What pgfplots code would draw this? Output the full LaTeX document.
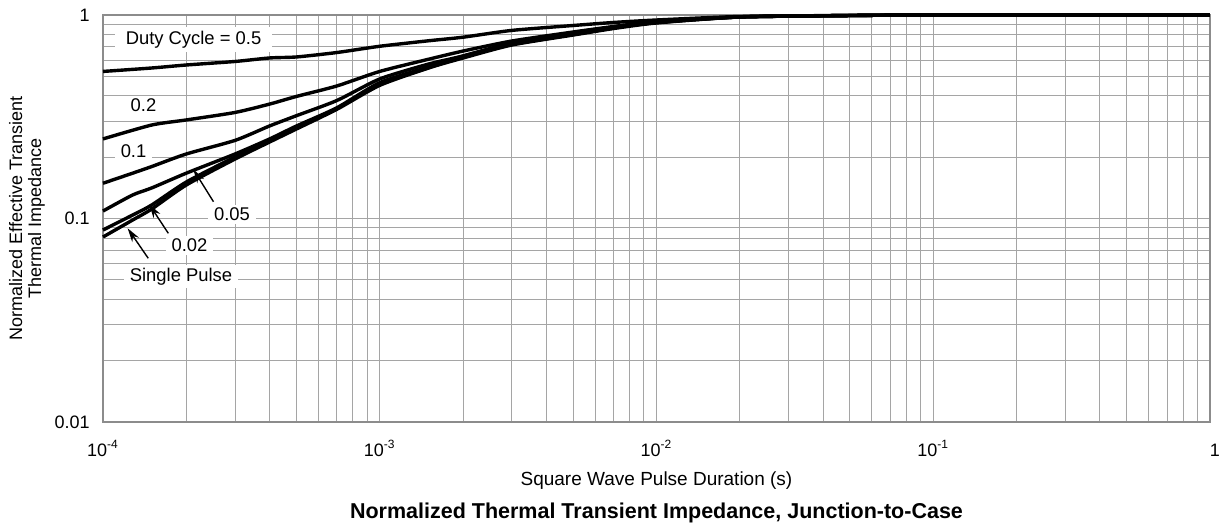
\documentclass[border=0pt]{standalone}
\usepackage{fontspec}
\setmainfont{Liberation Sans}
\usepackage{pgfplots}
\pgfplotsset{compat=1.18}
\usetikzlibrary{arrows.meta}
\definecolor{gridgray}{RGB}{165,165,165}
\pgfplotsset{curve/.style={black, solid, no markers, line width=1.7pt, smooth, tension=0.4}}
\begin{document}
\fontsize{9}{10.5}\selectfont
\begin{tikzpicture}
\path[use as bounding box] (-51.5pt,-51pt) rectangle (559.5pt,211pt);
\begin{axis}[
  at={(0,0)}, anchor=south west,
  scale only axis, width=553.5pt, height=203.5pt,
  xmode=log, ymode=log,
  xmin=1e-4, xmax=1, ymin=0.01, ymax=1,
  clip=false,
  xtick={1e-4,1e-3,1e-2,1e-1,1},
  xticklabels={10\textsuperscript{-4},10\textsuperscript{-3},10\textsuperscript{-2},10\textsuperscript{-1},\vphantom{10\textsuperscript{-1}}\hspace{5pt}1},
  ytick={0.01,0.1,1},
  yticklabels={0.01,0.1,1},
  minor xtick={2e-4,3e-4,4e-4,5e-4,6e-4,7e-4,8e-4,9e-4,2e-3,3e-3,4e-3,5e-3,6e-3,7e-3,8e-3,9e-3,0.02,0.03,0.04,0.05,0.06,0.07,0.08,0.09,0.2,0.3,0.4,0.5,0.6,0.7,0.8,0.9},
  minor ytick={0.02,0.03,0.04,0.05,0.06,0.07,0.08,0.09,0.2,0.3,0.4,0.5,0.6,0.7,0.8,0.9},
  grid=both,
  major grid style={gridgray, line width=0.5pt},
  minor grid style={gridgray, line width=0.5pt},
  axis line style={gridgray!85!black, line width=0.8pt},
  tick style={draw=none},
  xticklabel style={yshift=-6pt},
  yticklabel style={xshift=-3.5pt},
]
% Duty 0.5
\addplot[curve] coordinates {(1e-4,0.528)(1.5e-4,0.549)(2e-4,0.568)(3e-4,0.591)(4e-4,0.615)(5e-4,0.622)(7e-4,0.654)(1e-3,0.702)(1.5e-3,0.747)(2e-3,0.778)(3e-3,0.840)(5e-3,0.888)(7e-3,0.919)(1e-2,0.945)(2e-2,0.983)(5e-2,0.995)(0.1,1)(1,1)};
% Duty 0.2
\addplot[curve] coordinates {(1e-4,0.246)(1.5e-4,0.288)(2e-4,0.305)(3e-4,0.332)(4e-4,0.365)(5e-4,0.398)(7e-4,0.448)(1e-3,0.528)(1.5e-3,0.606)(2e-3,0.665)(3e-3,0.745)(5e-3,0.825)(7e-3,0.878)(1e-2,0.929)(2e-2,0.978)(5e-2,0.994)(0.1,1)(1,1)};
% Duty 0.1
\addplot[curve] coordinates {(1e-4,0.149)(1.28e-4,0.167)(1.5e-4,0.180)(2e-4,0.2075)(3e-4,0.242)(4e-4,0.285)(5e-4,0.320)(7e-4,0.380)(1e-3,0.485)(1.5e-3,0.574)(2e-3,0.629)(3e-3,0.729)(5e-3,0.816)(7e-3,0.873)(1e-2,0.924)(2e-2,0.978)(5e-2,0.994)(0.1,1)(1,1)};
% Duty 0.05
\addplot[curve] coordinates {(1e-4,0.1088)(1.28e-4,0.1305)(1.5e-4,0.1413)(2e-4,0.167)(3e-4,0.2075)(4e-4,0.246)(5e-4,0.2848)(7e-4,0.350)(1e-3,0.465)(1.5e-3,0.5552)(2e-3,0.6288)(3e-3,0.7205)(5e-3,0.8065)(7e-3,0.8682)(1e-2,0.9186)(2e-2,0.978)(5e-2,0.994)(0.1,1)(1,1)};
% Duty 0.02
\addplot[curve] coordinates {(1e-4,0.0878)(1.28e-4,0.104)(1.5e-4,0.1165)(2e-4,0.1511)(3e-4,0.2005)(4e-4,0.2403)(5e-4,0.2784)(7e-4,0.348)(1e-3,0.456)(1.5e-3,0.550)(2e-3,0.622)(3e-3,0.716)(5e-3,0.802)(7e-3,0.863)(1e-2,0.9186)(2e-2,0.978)(5e-2,0.994)(0.1,1)(1,1)};
% Single pulse
\addplot[curve] coordinates {(1e-4,0.0811)(1.28e-4,0.0983)(1.5e-4,0.1113)(2e-4,0.1461)(3e-4,0.196)(4e-4,0.2376)(5e-4,0.2753)(7e-4,0.344)(1e-3,0.451)(1.5e-3,0.549)(2e-3,0.6147)(3e-3,0.7121)(5e-3,0.7974)(7e-3,0.8582)(1e-2,0.9136)(2e-2,0.9776)(5e-2,0.994)(0.1,1)(1,1)};

% annotations
\node[fill=white, inner xsep=5.5pt, inner ysep=2pt, anchor=base, font=\fontsize{9.2}{11}\selectfont] at (rel axis cs:0.0818,0.9287) {Duty Cycle = 0.5};
\node[fill=white, inner xsep=3pt, inner ysep=1.5pt, anchor=base, font=\fontsize{9.2}{11}\selectfont] at (rel axis cs:0.0366,0.7624) {0.2};
\node[fill=white, inner xsep=3pt, inner ysep=1.5pt, anchor=base, font=\fontsize{9.2}{11}\selectfont] at (rel axis cs:0.0276,0.6504) {0.1};
\node[fill=white, inner xsep=3pt, inner ysep=1.5pt, anchor=base, font=\fontsize{9.2}{11}\selectfont] at (rel axis cs:0.1165,0.4939) {0.05};
\node[fill=white, inner xsep=3pt, inner ysep=1.5pt, anchor=base, font=\fontsize{9.2}{11}\selectfont] at (rel axis cs:0.0781,0.4184) {0.02};
\node[fill=white, inner xsep=3pt, inner ysep=1.5pt, anchor=base, font=\fontsize{9.2}{11}\selectfont] at (rel axis cs:0.0705,0.3452) {Single Pulse};
\draw[black, line width=0.7pt, -{Stealth[length=7pt,width=4pt]}] (rel axis cs:0.0998,0.5413) -- (rel axis cs:0.0816,0.6208);
\draw[black, line width=0.7pt, -{Stealth[length=7pt,width=4pt]}] (rel axis cs:0.0590,0.4636) -- (rel axis cs:0.0418,0.5348);
\draw[black, line width=0.7pt, -{Stealth[length=7pt,width=4pt]}] (rel axis cs:0.0409,0.4022) -- (rel axis cs:0.0223,0.4759);

% labels
\node[rotate=90, align=center, font=\fontsize{9}{9.5}\selectfont] at (rel axis cs:-0.0687,0.5) {Normalized Effective Transient\\Thermal Impedance};
\node[anchor=base, font=\fontsize{9.5}{11}\selectfont] at (rel axis cs:0.5,-0.1572) {Square Wave Pulse Duration (s)};
\node[anchor=base, font=\fontsize{10.75}{12}\selectfont\bfseries] at (rel axis cs:0.5,-0.2383) {Normalized Thermal Transient Impedance, Junction-to-Case};
\end{axis}
\end{tikzpicture}
\end{document}
